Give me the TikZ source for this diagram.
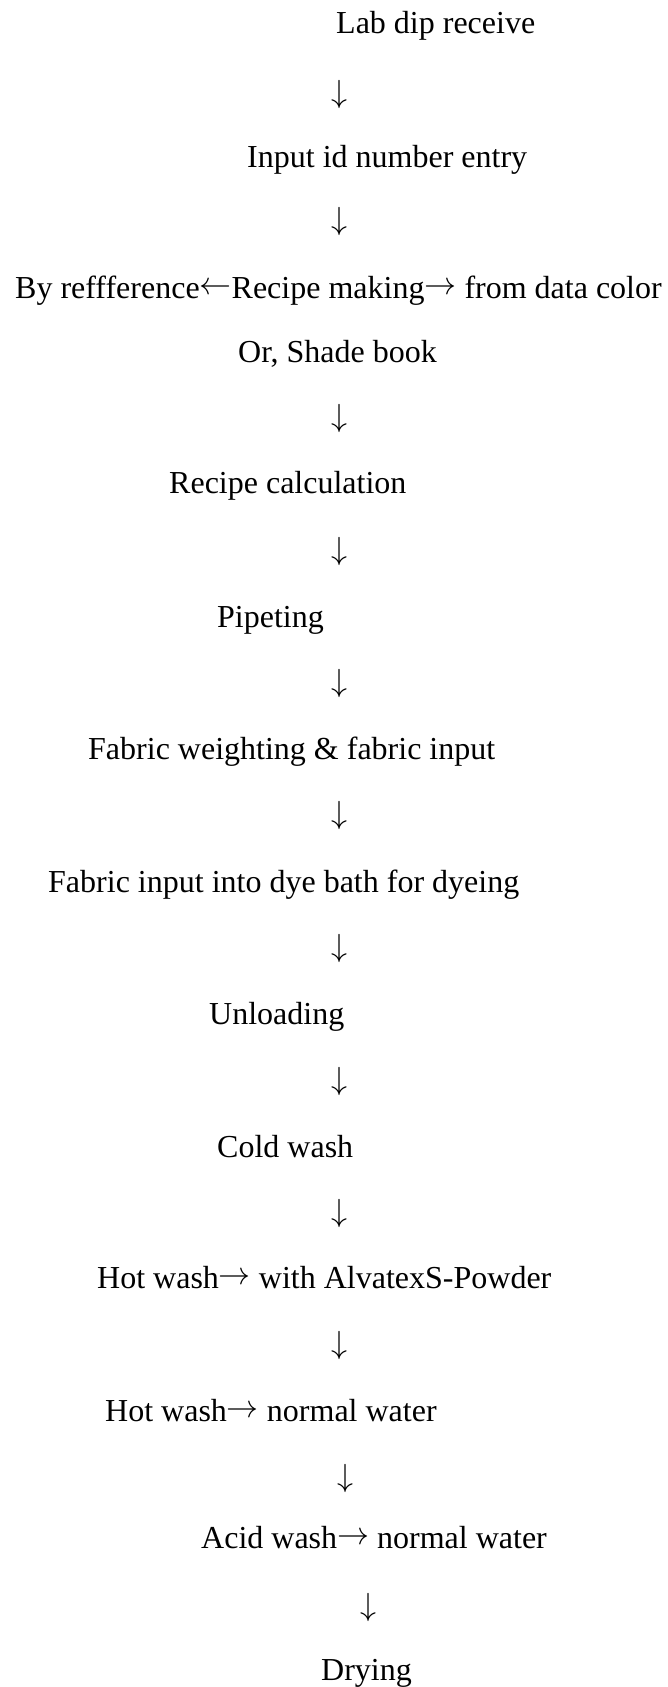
\RequirePackage{fix-cm}
\documentclass[tikz,border=0pt]{standalone}
\usepackage{fontspec}
\setmainfont{Liberation Serif}
\newcommand{\flowleft}{\raisebox{0.12em}{$\leftarrow$}}
\newcommand{\flowright}{\raisebox{0.12em}{$\rightarrow$}}
\tikzset{
  stage/.style={anchor=base west, inner sep=0pt},
  flow/.style={anchor=center, inner sep=0pt}
}

\begin{document}
\begin{tikzpicture}[x=1pt, y=-1pt, font={\fontsize{32}{38}\selectfont}]
  \useasboundingbox (0,0) rectangle (668,1687);
  % Process stages
  \node[stage] (receive)  at (336,33)   {Lab dip receive};
  \node[stage] (entry)    at (247,167)  {Input id number entry};
  \node[stage] (making)   at (15,298)   {By reffference\flowleft Recipe making\flowright{} from data color};
  \node[stage] (shade)    at (238,362)  {Or, Shade book};
  \node[stage] (calc)     at (169,493)  {Recipe calculation};
  \node[stage] (pipet)    at (217,627)  {Pipeting};
  \node[stage] (weigh)    at (88,759)   {Fabric weighting \& fabric input};
  \node[stage] (dyeing)   at (48,892)   {Fabric input into dye bath for dyeing};
  \node[stage] (unload)   at (209,1024) {Unloading};
  \node[stage] (cold)     at (217,1157) {Cold wash};
  \node[stage] (hotsoap)  at (97,1288)  {Hot wash\flowright{} with AlvatexS-Powder};
  \node[stage] (hotwater) at (105,1421) {Hot wash\flowright{} normal water};
  \node[stage] (acid)     at (201,1548) {Acid wash\flowright{} normal water};
  \node[stage] (dry)      at (321,1680) {Drying};
  % Down arrows between stages
  \foreach \idx/\xx/\yy in {1/339/94, 2/339/221, 3/339/418, 4/339/551,
                            5/339/683, 6/339/815, 7/339/948, 8/339/1081,
                            9/339/1213, 10/339/1345, 11/345/1478, 12/368/1607}{
    \node[flow] (d\idx) at (\xx,\yy) {$\downarrow$};
  }
\end{tikzpicture}
\end{document}
